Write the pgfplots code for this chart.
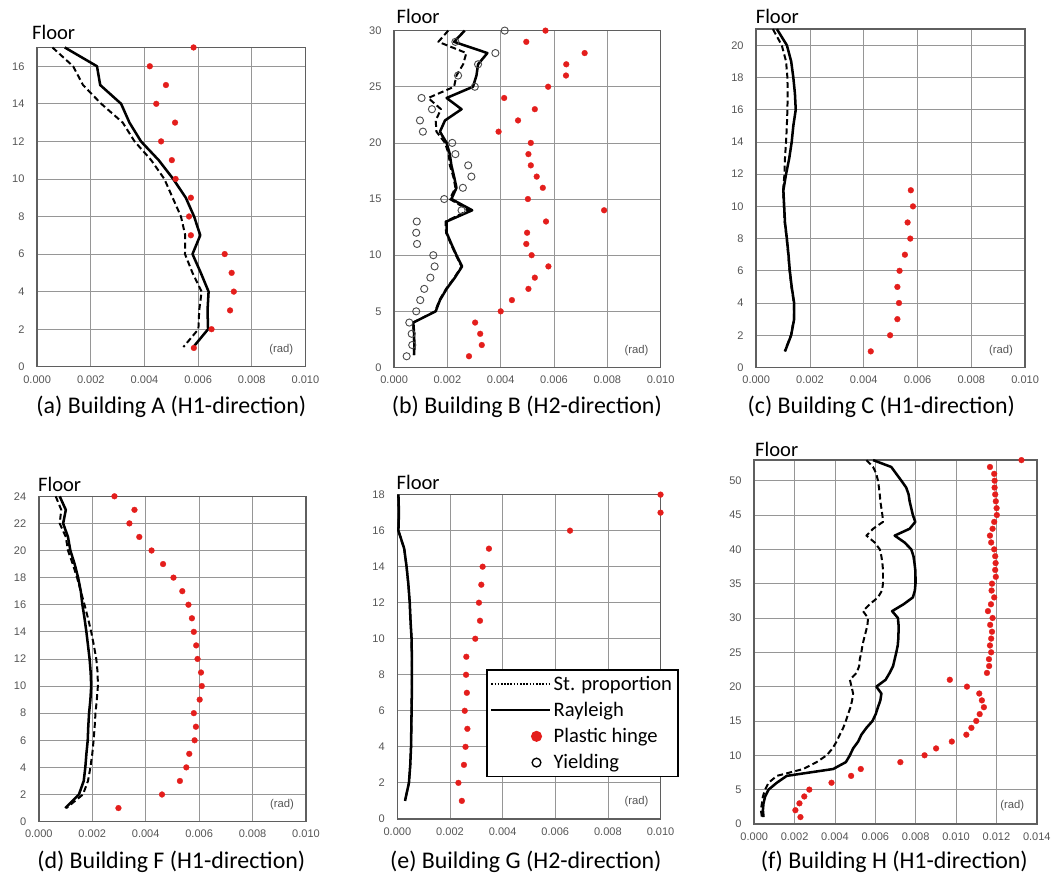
\documentclass[border=0pt]{standalone}
\usepackage{fontspec}
\setmainfont{Carlito}
\newfontfamily\tickfont{Liberation Sans}
\usepackage{pgfplots}
\pgfplotsset{compat=1.18}
\definecolor{hinge}{RGB}{228,30,28}
\definecolor{gridc}{RGB}{150,150,150}
\definecolor{framec}{RGB}{95,95,95}
\definecolor{tickc}{RGB}{85,85,85}

\pgfplotsset{
  panel/.style={
    scale only axis, anchor=south west,
    xmin=0, xmax=10, ymin=0,
    xtick={0,2,...,10},
    xticklabels={0.000,0.002,0.004,0.006,0.008,0.010},
    grid=major, major grid style={gridc, line width=0.55pt},
    axis line style={framec, line width=1.1pt},
    major tick length=0pt,
    tick label style={font=\tickfont\fontsize{8.3}{10}\selectfont, text=tickc},
    /pgf/number format/assume math mode=true,
    yticklabel style={xshift=-6pt},
    xticklabel style={yshift=-3pt},
    clip=false,
  },
  rayl/.style={black, line width=1.9pt, no marks, line join=round},
  stp/.style={black, line width=1.5pt, dash pattern=on 4.5pt off 2.5pt, no marks, line join=round},
  hin/.style={only marks, mark=*, mark size=2.2pt, mark options={fill=hinge, draw=hinge, line width=0.2pt}},
  yld/.style={only marks, mark=o, mark size=2.7pt, mark options={draw=black!70, line width=0.7pt}},
  lgline/.style={legend image code/.code={\draw[##1] (0pt,0pt) -- (44pt,0pt);}},
  lghinge/.style={legend image code/.code={\fill[hinge] (34pt,0pt) circle (3.6pt);}},
  lgyield/.style={legend image code/.code={\draw[black, line width=1pt] (34pt,0pt) circle (3.3pt);}},
}
\newcommand{\rad}{\node[font=\tickfont\fontsize{8.5}{10}\selectfont, text=tickc, anchor=south east] at (rel axis cs:0.972,0.022) {(rad)};}
\newcommand{\floorlab}{\fontsize{15.5}{18}\selectfont}

\begin{document}
\begin{tikzpicture}
\path (0pt,0pt) rectangle (791.25pt,-665.25pt);

% (a) Building A
\begin{axis}[panel, at={(27.98pt,-276.2pt)}, width=202.05pt, height=240.45pt,
  ymax=17, ytick={0,2,...,16}]
\addplot[stp] coordinates {(0.57,17)(1.34,16)(1.71,15)(2.39,14)(3.19,13)(3.63,12)(4.25,11)(4.74,10)(5.05,9)(5.36,8)(5.52,7)(5.51,6)(5.79,5)(6.13,4)(6.04,3)(6.01,2)(5.45,1.05)};
\addplot[rayl] coordinates {(1.03,17)(2.23,16)(2.35,15)(3.13,14)(3.44,13)(3.87,12)(4.53,11)(5.07,10)(5.54,9)(5.85,8)(6.08,7)(5.79,6)(6.10,5)(6.39,4)(6.35,3)(6.37,2)(5.85,1.1)};
\addplot[hin] coordinates {(5.83,17)(4.20,16)(4.80,15)(4.44,14)(5.14,13)(4.62,12)(5.02,11)(5.16,10)(5.73,9)(5.66,8)(5.73,7)(6.99,6)(7.25,5)(7.33,4)(7.19,3)(6.50,2)(5.84,1)};
\rad
\end{axis}

% (b) Building B
\begin{axis}[panel, at={(296.8pt,-276.75pt)}, width=200.7pt, height=253.7pt,
  ymax=30, ytick={0,5,...,30}]
\addplot[yld] coordinates {(4.15,30)(2.30,29)(3.80,28)(3.15,27)(2.40,26)(3.03,25)(1.03,24)(1.42,23)(0.97,22)(1.08,21)(2.18,20)(2.30,19)(2.78,18)(2.90,17)(2.58,16)(1.88,15)(2.53,14)(0.85,13)(0.83,12)(0.86,11)(1.47,10)(1.52,9)(1.36,8)(1.13,7)(0.98,6)(0.83,5)(0.57,4)(0.66,3)(0.68,2)(0.47,1)};
\addplot[stp] coordinates {(2.03,30)(1.66,29)(2.71,28)(2.59,27)(2.34,26)(2.25,25)(1.28,24)(1.76,23)(1.56,22)(1.59,21)(1.91,20)(2.05,19)(2.09,18)(2.22,17)(2.30,16)(2.09,15)(2.80,14)(1.93,13)(1.95,12)(2.13,11)(2.32,10)(2.53,9)(2.26,8)(1.95,7)(1.70,6)(1.54,5)(0.71,4)(0.74,3)(0.75,2)(0.74,1.1)};
\addplot[rayl] coordinates {(2.65,30)(2.25,29)(3.50,28)(3.15,27)(3.09,26)(2.96,25)(1.97,24)(2.53,23)(1.91,22)(1.72,21)(1.97,20)(2.09,19)(2.15,18)(2.25,17)(2.34,16)(2.15,15)(2.93,14)(1.97,13)(1.97,12)(2.15,11)(2.34,10)(2.55,9)(2.28,8)(1.97,7)(1.72,6)(1.56,5)(0.72,4)(0.75,3)(0.76,2)(0.75,1.1)};
\addplot[hin] coordinates {(5.68,30)(4.96,29)(7.15,28)(6.46,27)(6.45,26)(5.78,25)(4.13,24)(5.28,23)(4.65,22)(3.92,21)(5.13,20)(5.04,19)(5.13,18)(5.35,17)(5.58,16)(5.02,15)(7.88,14)(5.70,13)(4.99,12)(4.96,11)(5.16,10)(5.79,9)(5.28,8)(5.04,7)(4.42,6)(4.00,5)(3.04,4)(3.23,3)(3.29,2)(2.81,1)};
\rad
\end{axis}

% (c) Building C
\begin{axis}[panel, at={(569.5pt,-276.75pt)}, width=202.5pt, height=254.8pt,
  ymax=21, ytick={0,2,...,20}]
\addplot[stp] coordinates {(0.62,21)(0.95,20)(1.11,19)(1.16,18)(1.17,17)(1.16,16)(1.14,15)(1.11,14)(1.07,13)(1.05,12)(1.00,11)(1.03,10)(1.06,9)(1.13,8)(1.19,7)(1.24,6)(1.31,5)(1.40,4)(1.40,3)(1.29,2)(1.06,1)};
\addplot[rayl] coordinates {(0.77,21)(1.14,20)(1.30,19)(1.38,18)(1.44,17)(1.47,16)(1.38,15)(1.32,14)(1.23,13)(1.11,12)(1.01,11)(1.04,10)(1.07,9)(1.14,8)(1.20,7)(1.25,6)(1.32,5)(1.41,4)(1.41,3)(1.30,2)(1.07,1)};
\addplot[hin] coordinates {(5.75,11)(5.83,10)(5.63,9)(5.73,8)(5.53,7)(5.33,6)(5.25,5)(5.31,4)(5.25,3)(4.98,2)(4.26,1)};
\rad
\end{axis}

% (d) Building F
\begin{axis}[panel, at={(29.25pt,-618.75pt)}, width=201.2pt, height=245pt,
  ymax=24, ytick={0,2,...,24}]
\addplot[stp] coordinates {(0.63,24)(0.84,23)(0.78,22)(1.01,21)(1.09,20)(1.27,19)(1.43,18)(1.57,17)(1.71,16)(1.84,15)(1.96,14)(2.06,13)(2.15,12)(2.20,11)(2.21,10)(2.17,9)(2.12,8)(2.09,7)(2.05,6)(2.00,5)(1.93,4)(1.84,3)(1.65,2)(1.03,1)};
\addplot[rayl] coordinates {(0.78,24)(1.01,23)(0.91,22)(1.09,21)(1.18,20)(1.34,19)(1.47,18)(1.57,17)(1.63,16)(1.71,15)(1.78,14)(1.84,13)(1.90,12)(1.94,11)(1.96,10)(1.93,9)(1.88,8)(1.85,7)(1.83,6)(1.78,5)(1.74,4)(1.68,3)(1.50,2)(0.99,1)};
\addplot[hin] coordinates {(2.83,24)(3.58,23)(3.39,22)(3.76,21)(4.22,20)(4.65,19)(5.04,18)(5.37,17)(5.60,16)(5.73,15)(5.80,14)(5.89,13)(5.94,12)(6.07,11)(6.10,10)(6.02,9)(5.80,8)(5.88,7)(5.83,6)(5.63,5)(5.52,4)(5.28,3)(4.61,2)(2.98,1)};
\rad
\end{axis}

% (e) Building G
\begin{axis}[panel, at={(299.25pt,-616.7pt)}, width=198.2pt, height=244.2pt,
  ymax=18, ytick={0,2,...,18},
  legend style={at={(0.337,0.462)}, anchor=north west, draw=black, line width=1.1pt,
    font=\fontsize{15.5}{17}\selectfont, row sep=3.5pt, inner sep=2.5pt},
  legend cell align=left]
\addplot[stp, forget plot] coordinates {(0.04,18)(0.06,17)(0.04,16)(0.26,15)(0.35,14)(0.42,13)(0.47,12)(0.50,11)(0.54,10)(0.55,9)(0.55,8)(0.55,7)(0.54,6)(0.53,5)(0.52,4)(0.49,3)(0.44,2)(0.29,1)};
\addplot[rayl, forget plot] coordinates {(0.04,18)(0.06,17)(0.04,16)(0.26,15)(0.35,14)(0.42,13)(0.47,12)(0.50,11)(0.54,10)(0.55,9)(0.55,8)(0.55,7)(0.54,6)(0.53,5)(0.52,4)(0.49,3)(0.44,2)(0.29,1)};
\addplot[hin, forget plot] coordinates {(10.0,18)(10.0,17)(6.56,16)(3.48,15)(3.24,14)(3.19,13)(3.10,12)(3.14,11)(2.96,10)(2.62,9)(2.61,8)(2.64,7)(2.56,6)(2.66,5)(2.59,4)(2.53,3)(2.32,2)(2.45,1)};
\addlegendimage{lgline, black, line width=1.5pt, dash pattern=on 1.2pt off 1.2pt}
\addlegendentry{St. proportion}
\addlegendimage{lgline, black, line width=1.9pt}
\addlegendentry{Rayleigh}
\addlegendimage{lghinge}
\addlegendentry{Plastic hinge}
\addlegendimage{lgyield}
\addlegendentry{Yielding}
\rad
\end{axis}

% (f) Building H
\begin{axis}[panel, at={(568pt,-620.5pt)}, width=212.8pt, height=274pt,
  xmax=14, xtick={0,2,...,14},
  xticklabels={0.000,0.002,0.004,0.006,0.008,0.010,0.012,0.014},
  ymax=53, ytick={0,5,...,50}]
\addplot[stp] coordinates {(5.56,53)(5.89,52)(6.05,51)(6.13,50)(6.18,49)(6.22,48)(6.25,47)(6.30,46)(6.35,45)(6.38,44)(5.89,43)(5.56,42)(5.97,41)(6.22,40)(6.30,39)(6.35,38)(6.38,37)(6.38,36)(6.38,35)(6.33,34)(6.13,33)(5.72,32)(5.39,31)(5.64,30)(5.61,29)(5.53,28)(5.44,27)(5.36,26)(5.31,25)(5.23,24)(5.20,23)(5.07,22)(4.74,21)(4.82,20)(4.90,19)(4.85,18)(4.77,17)(4.65,16)(4.54,15)(4.41,14)(4.24,13)(4.08,12)(3.88,11)(3.59,10)(3.09,9)(2.43,8)(1.12,7)(0.71,6)(0.54,5)(0.43,4)(0.38,3)(0.33,2)(0.38,1)};
\addplot[rayl] coordinates {(5.89,53)(6.79,52)(7.04,51)(7.29,50)(7.53,49)(7.65,48)(7.70,47)(7.78,46)(7.86,45)(7.98,44)(7.70,43)(6.96,42)(7.45,41)(7.78,40)(7.89,39)(7.94,38)(7.98,37)(7.99,36)(7.99,35)(7.96,34)(7.86,33)(7.40,32)(6.83,31)(7.12,30)(7.15,29)(7.15,28)(7.14,27)(7.11,26)(7.04,25)(6.96,24)(6.88,23)(6.71,22)(6.51,21)(6.05,20)(6.30,19)(6.25,18)(6.13,17)(6.02,16)(5.86,15)(5.56,14)(5.31,13)(5.15,12)(4.90,11)(4.74,10)(4.54,9)(3.91,8)(1.61,7)(1.12,6)(0.71,5)(0.54,4)(0.46,3)(0.43,2)(0.46,1)};
\addplot[hin] coordinates {(13.24,53)(11.68,52)(11.89,51)(11.91,50)(11.91,49)(11.94,48)(11.97,47)(12.01,46)(12.02,45)(11.89,44)(11.81,43)(11.68,42)(11.74,41)(11.89,40)(11.94,39)(11.96,38)(11.94,37)(11.97,36)(11.78,35)(11.76,34)(11.89,33)(11.73,32)(11.58,31)(11.81,30)(11.69,29)(11.78,28)(11.74,27)(11.68,26)(11.74,25)(11.63,24)(11.64,23)(11.53,22)(9.69,21)(10.54,20)(11.15,19)(11.28,18)(11.38,17)(11.17,16)(11.00,15)(10.76,14)(10.51,13)(9.79,12)(9.01,11)(8.44,10)(7.24,9)(5.28,8)(4.80,7)(3.83,6)(2.73,5)(2.48,4)(2.24,3)(2.04,2)(2.29,1)};
\rad
\end{axis}

% Floor labels
\node[anchor=west, font=\floorlab, inner sep=0pt] at (24pt,-24.75pt) {Floor};
\node[anchor=west, font=\floorlab, inner sep=0pt] at (298.5pt,-12pt) {Floor};
\node[anchor=west, font=\floorlab, inner sep=0pt] at (569pt,-12pt) {Floor};
\node[anchor=west, font=\floorlab, inner sep=0pt] at (28.5pt,-364.5pt) {Floor};
\node[anchor=west, font=\floorlab, inner sep=0pt] at (298.5pt,-363pt) {Floor};
\node[anchor=west, font=\floorlab, inner sep=0pt] at (568.5pt,-338.25pt) {Floor};

% captions
\begin{scope}[every node/.style={font=\fontsize{18}{21}\selectfont, inner sep=0pt}]
\node at (129pt,-306pt) {(a) Building A (H1-direction)};
\node at (396.75pt,-306pt) {(b) Building B (H2-direction)};
\node at (663.75pt,-306pt) {(c) Building C (H1-direction)};
\node at (129pt,-648.75pt) {(d) Building F (H1-direction)};
\node at (396pt,-648.75pt) {(e) Building G (H2-direction)};
\node at (673.5pt,-648.75pt) {(f) Building H (H1-direction)};
\end{scope}
\end{tikzpicture}
\end{document}
